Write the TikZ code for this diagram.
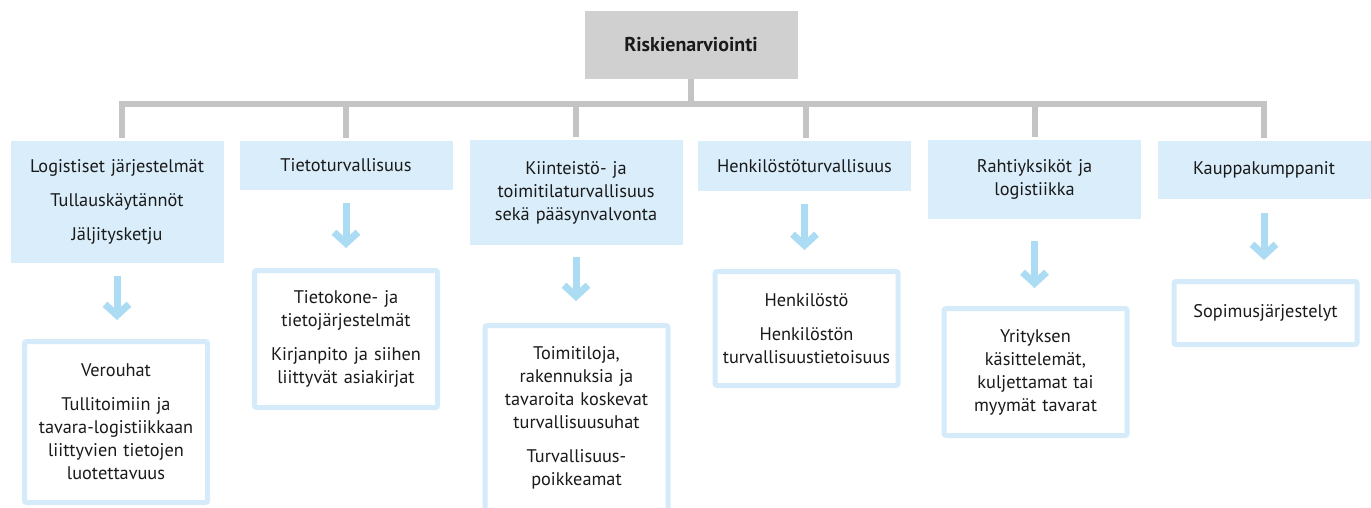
\documentclass[tikz,border=0pt]{standalone}
\usepackage{fontspec}
\setmainfont{PT Sans}
\usetikzlibrary{arrows.meta}
\definecolor{harmaa}{HTML}{D0D0D0}
\definecolor{viiva}{HTML}{C4C4C4}
\definecolor{vaalea}{HTML}{D9EDFA}
\definecolor{reuna}{HTML}{D6EBF9}
\definecolor{nuoli}{HTML}{ABDCF4}
\definecolor{teksti}{HTML}{1A1A1A}
\begin{document}
\begin{tikzpicture}[x=1pt,y=-1pt,
		teksti/.style={text=teksti,font=\fontsize{18.3}{23}\selectfont,align=center,inner sep=0pt},
		paa/.style={teksti,fill=harmaa,minimum width=213pt,minimum height=68pt,font=\fontsize{20}{23}\selectfont\bfseries},
		alue/.style={teksti,fill=vaalea,text width=207pt,minimum width=213pt},
		kohde/.style={teksti,draw=reuna,line width=5pt,rounded corners=2pt,fill=white,text width=180pt,minimum width=183pt},
		linja/.style={draw=viiva,line width=6pt},
		pil/.style={draw=nuoli,line width=7pt,-{Straight Barb[length=11pt,width=24pt]}}]
	\useasboundingbox (0,0) rectangle (1371,508);
	\clip (0,0) rectangle (1371,508);
	% juuri
	\node[paa] (root) at (691,45) {Riskienarviointi};
	% ensimmäinen taso
	\node[alue,minimum height=122pt] (l1) at (117,202) {Logistiset järjestelmät\\[11pt]Tullauskäytännöt\\[11pt]Jäljitysketju};
	\node[alue,minimum height=49pt] (l2) at (346,165.5) {Tietoturvallisuus};
	\node[alue,minimum height=105pt] (l3) at (576,192.5) {Kiinteistö- ja\\toimitilaturvallisuus\\sekä pääsynvalvonta};
	\node[alue,minimum height=50pt] (l4) at (804.5,166) {Henkilöstöturvallisuus};
	\node[alue,minimum height=79pt] (l5) at (1034.5,179.5) {Rahtiyksiköt ja\\logistiikka};
	\node[alue,minimum height=58pt] (l6) at (1264,170) {Kauppakumppanit};
	% toinen taso
	\node[kohde,minimum height=161pt] (d1) at (116,422) {Verouhat\\[11pt]Tullitoimiin ja\\tavara-logistiikkaan\\liittyvien tietojen\\luotettavuus};
	\node[kohde,minimum height=137pt] (d2) at (346,339) {Tietokone- ja\\tietojärjestelmät\\[11pt]Kirjanpito ja siihen\\liittyvät asiakirjat};
	\node[kohde,minimum height=185pt] (d3) at (576.5,418) {Toimitiloja,\\rakennuksia ja\\tavaroita koskevat\\turvallisuusuhat\\[11pt]Turvallisuus-\\poikkeamat};
	\node[kohde,minimum height=114pt] (d4) at (806.5,328.5) {Henkilöstö\\[11pt]Henkilöstön\\turvallisuustietoisuus};
	\node[kohde,minimum height=127pt] (d5) at (1035.5,372) {Yrityksen\\käsittelemät,\\kuljettamat tai\\myymät tavarat};
	\node[kohde,minimum height=63pt] (d6) at (1265.5,313) {Sopimusjärjestelyt};
	% haarat
	\foreach \i/\s in {1/5,2/0,3/0,4/1.5,5/0.5,6/0}
		\draw[linja] (root.south) |- ([xshift=\s pt]l\i.north |- 0,104) -- ([xshift=\s pt,yshift=3pt]l\i.north);
	% nuolet
	\foreach \i/\a/\b in {1/13/19,2/13/20,3/12/22,4/13/19,5/22/18,6/14/19}
		\draw[pil,shorten <=\a pt,shorten >=\b pt] (l\i.south) -- (l\i.south |- d\i.north);
\end{tikzpicture}
\end{document}
